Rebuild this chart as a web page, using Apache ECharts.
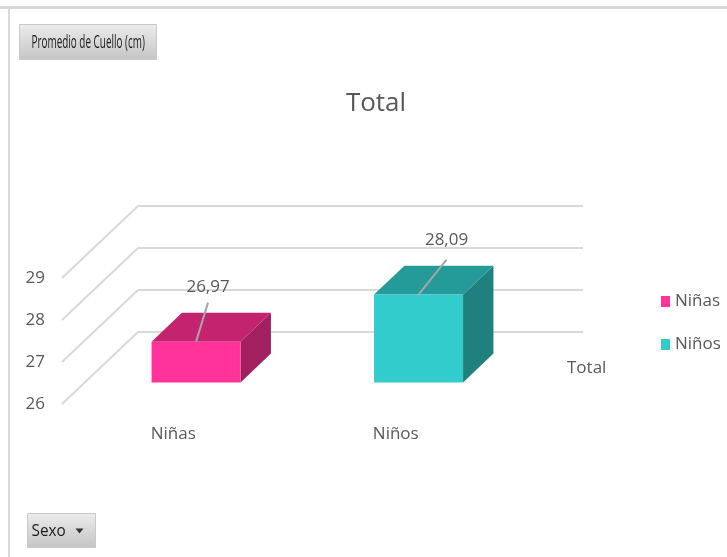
<!DOCTYPE html>
<html>
<head>
<meta charset="utf-8">
<script src="https://cdn.jsdelivr.net/npm/echarts@6/dist/echarts.min.js"></script>
<style>
html,body{margin:0;padding:0;background:#fff;}
#chart{width:727px;height:557px;}
</style>
</head>
<body>
<div id="chart"></div>
<script>
// ---- data ----
const categories = ['Niñas', 'Niños'];
const seriesNames = ['Niñas', 'Niños'];
const values = [26.97, 28.09];
const yTicks = [26, 27, 28, 29];
const depthLabel = 'Total';
const chartTitle = 'Total';
const fieldButton = 'Promedio de Cuello (cm)';
const axisButton = 'Sexo';

// ---- style ----
const FONT = '"Open Sans", "Noto Sans", sans-serif';
const TXT = '#595959';
const GRID_COLOR = '#d9d9d9';
const DEPTH = { x: 76, y: 72 };          // projection of full floor depth
const BAR_FRONT = 0.70, BAR_BACK = 0.30; // bar depth fractions (from back wall)
const palettes = [
  { front: '#ff3399', top: '#c4246f', side: '#a1205f' },
  { front: '#33cccc', top: '#259b99', side: '#1f807d' }
];
const labelShift = [ { dx: 12, dy: -39, ty: -16 }, { dx: 28, dy: -35, ty: -19 } ];

const yMin = yTicks[0], yMax = yTicks[yTicks.length - 1];
const fmt = v => v.toFixed(2).replace('.', ',');

const chart = echarts.init(document.getElementById('chart'), null, { renderer: 'canvas' });

function barRender(si) {
  return function (params, api) {
    const idx = api.value(0), v = api.value(1);
    const top = api.coord([idx, v]);
    const base = api.coord([idx, yMin]);
    const w = api.size([1, 0])[0] * 0.4;
    const xl = top[0] - w / 2, xr = top[0] + w / 2;
    const yt = top[1], yb = base[1];
    const fdx = -DEPTH.x * BAR_FRONT, fdy = DEPTH.y * BAR_FRONT;
    const bdx = -DEPTH.x * BAR_BACK, bdy = DEPTH.y * BAR_BACK;
    const pal = palettes[si];
    const ls = labelShift[si];
    const cx = top[0] + fdx, cy = yt + fdy;
    return {
      type: 'group',
      children: [
        { type: 'polygon', shape: { points: [[xr + fdx, yt + fdy], [xr + bdx, yt + bdy], [xr + bdx, yb + bdy], [xr + fdx, yb + fdy]] }, style: { fill: pal.side } },
        { type: 'polygon', shape: { points: [[xl + fdx, yt + fdy], [xr + fdx, yt + fdy], [xr + bdx, yt + bdy], [xl + bdx, yt + bdy]] }, style: { fill: pal.top } },
        { type: 'rect', shape: { x: xl + fdx, y: yt + fdy, width: w, height: yb - yt }, style: { fill: pal.front } },
        { type: 'line', shape: { x1: cx, y1: cy, x2: cx + ls.dx, y2: cy + ls.dy }, style: { stroke: '#a6a6a6', lineWidth: 2 } },
        { type: 'text', x: cx + ls.dx, y: cy + ls.dy + ls.ty, style: { text: fmt(v), fill: TXT, font: '17px ' + FONT, align: 'center', verticalAlign: 'middle' } }
      ]
    };
  };
}

const barSeries = seriesNames.map((name, i) => ({
  name: name,
  type: 'custom',
  xAxisIndex: 0, yAxisIndex: 0,
  itemStyle: { color: palettes[i].front },
  data: [[i, values[i]]],
  renderItem: barRender(i),
  z: 5
}));

const option = {
  animation: false,
  backgroundColor: '#ffffff',
  title: {
    text: chartTitle, left: 371, top: 86, textAlign: 'center',
    textStyle: { fontFamily: FONT, fontSize: 26, fontWeight: 'normal', color: TXT }
  },
  legend: {
    data: seriesNames, orient: 'vertical', left: 656, top: 288,
    icon: 'rect', itemWidth: 9, itemHeight: 11, itemGap: 26,
    textStyle: { fontFamily: FONT, fontSize: 17, color: TXT },
    selectedMode: false
  },
  grid: [
    { left: 138, width: 445, top: 206, height: 126 },
    { left: 62, width: 445, top: 278, height: 126 }
  ],
  xAxis: [
    { type: 'category', gridIndex: 0, data: categories, show: false },
    { type: 'category', gridIndex: 1, data: categories,
      axisLine: { show: false }, axisTick: { show: false },
      axisLabel: { fontFamily: FONT, fontSize: 17, color: TXT, margin: 22 } }
  ],
  yAxis: [
    { type: 'value', gridIndex: 0, min: yMin, max: yMax, interval: 1,
      axisLine: { show: false }, axisTick: { show: false }, axisLabel: { show: false },
      splitLine: { lineStyle: { color: GRID_COLOR, width: 2 } } },
    { type: 'value', gridIndex: 1, min: yMin, max: yMax, interval: 1,
      axisLine: { show: false }, axisTick: { show: false }, splitLine: { show: false },
      axisLabel: { fontFamily: FONT, fontSize: 17, color: TXT, margin: 17 } }
  ],
  series: [
    {
      type: 'custom', xAxisIndex: 0, yAxisIndex: 0, silent: true,
      data: yTicks.map(v => [0, v]),
      renderItem: function (params, api) {
        const p = api.coord([0, api.value(1)]);
        const x0 = params.coordSys.x;
        return { type: 'line', shape: { x1: x0 - DEPTH.x, y1: p[1] + DEPTH.y, x2: x0, y2: p[1] },
          style: { stroke: GRID_COLOR, lineWidth: 2 } };
      },
      z: 1
    }
  ].concat(barSeries),
  graphic: [
    { type: 'rect', left: 0, top: 6, shape: { width: 727, height: 3 }, style: { fill: '#d9d9d9' }, silent: true },
    { type: 'rect', left: 8, top: 8, shape: { width: 2, height: 549 }, style: { fill: '#d9d9d9' }, silent: true },
    { type: 'group', left: 19, top: 24, children: [
      { type: 'rect', shape: { width: 137, height: 35 },
        style: { fill: new echarts.graphic.LinearGradient(0, 0, 0, 1, [{ offset: 0, color: '#ececec' }, { offset: 1, color: '#c4c4c4' }]), stroke: '#c8c8c8', lineWidth: 1 } },
      { type: 'text', x: 12, y: 18, scaleX: 0.62, scaleY: 1.1, style: { text: fieldButton, font: '16px ' + FONT, fill: '#1a1a1a', verticalAlign: 'middle' } }
    ]},
    { type: 'group', left: 27, top: 513, children: [
      { type: 'rect', shape: { width: 68, height: 34 },
        style: { fill: new echarts.graphic.LinearGradient(0, 0, 0, 1, [{ offset: 0, color: '#ececec' }, { offset: 1, color: '#c4c4c4' }]), stroke: '#c8c8c8', lineWidth: 1 } },
      { type: 'text', x: 4, y: 18, scaleX: 0.9, style: { text: axisButton, font: '17px ' + FONT, fill: '#1a1a1a', verticalAlign: 'middle' } },
      { type: 'polygon', shape: { points: [[48, 15], [56, 15], [52, 20]] }, style: { fill: '#333' } }
    ]},
    { type: 'text', left: 567, top: 360, style: { text: depthLabel, font: '17px ' + FONT, fill: TXT } }
  ]
};
chart.setOption(option);
</script>
</body>
</html>
